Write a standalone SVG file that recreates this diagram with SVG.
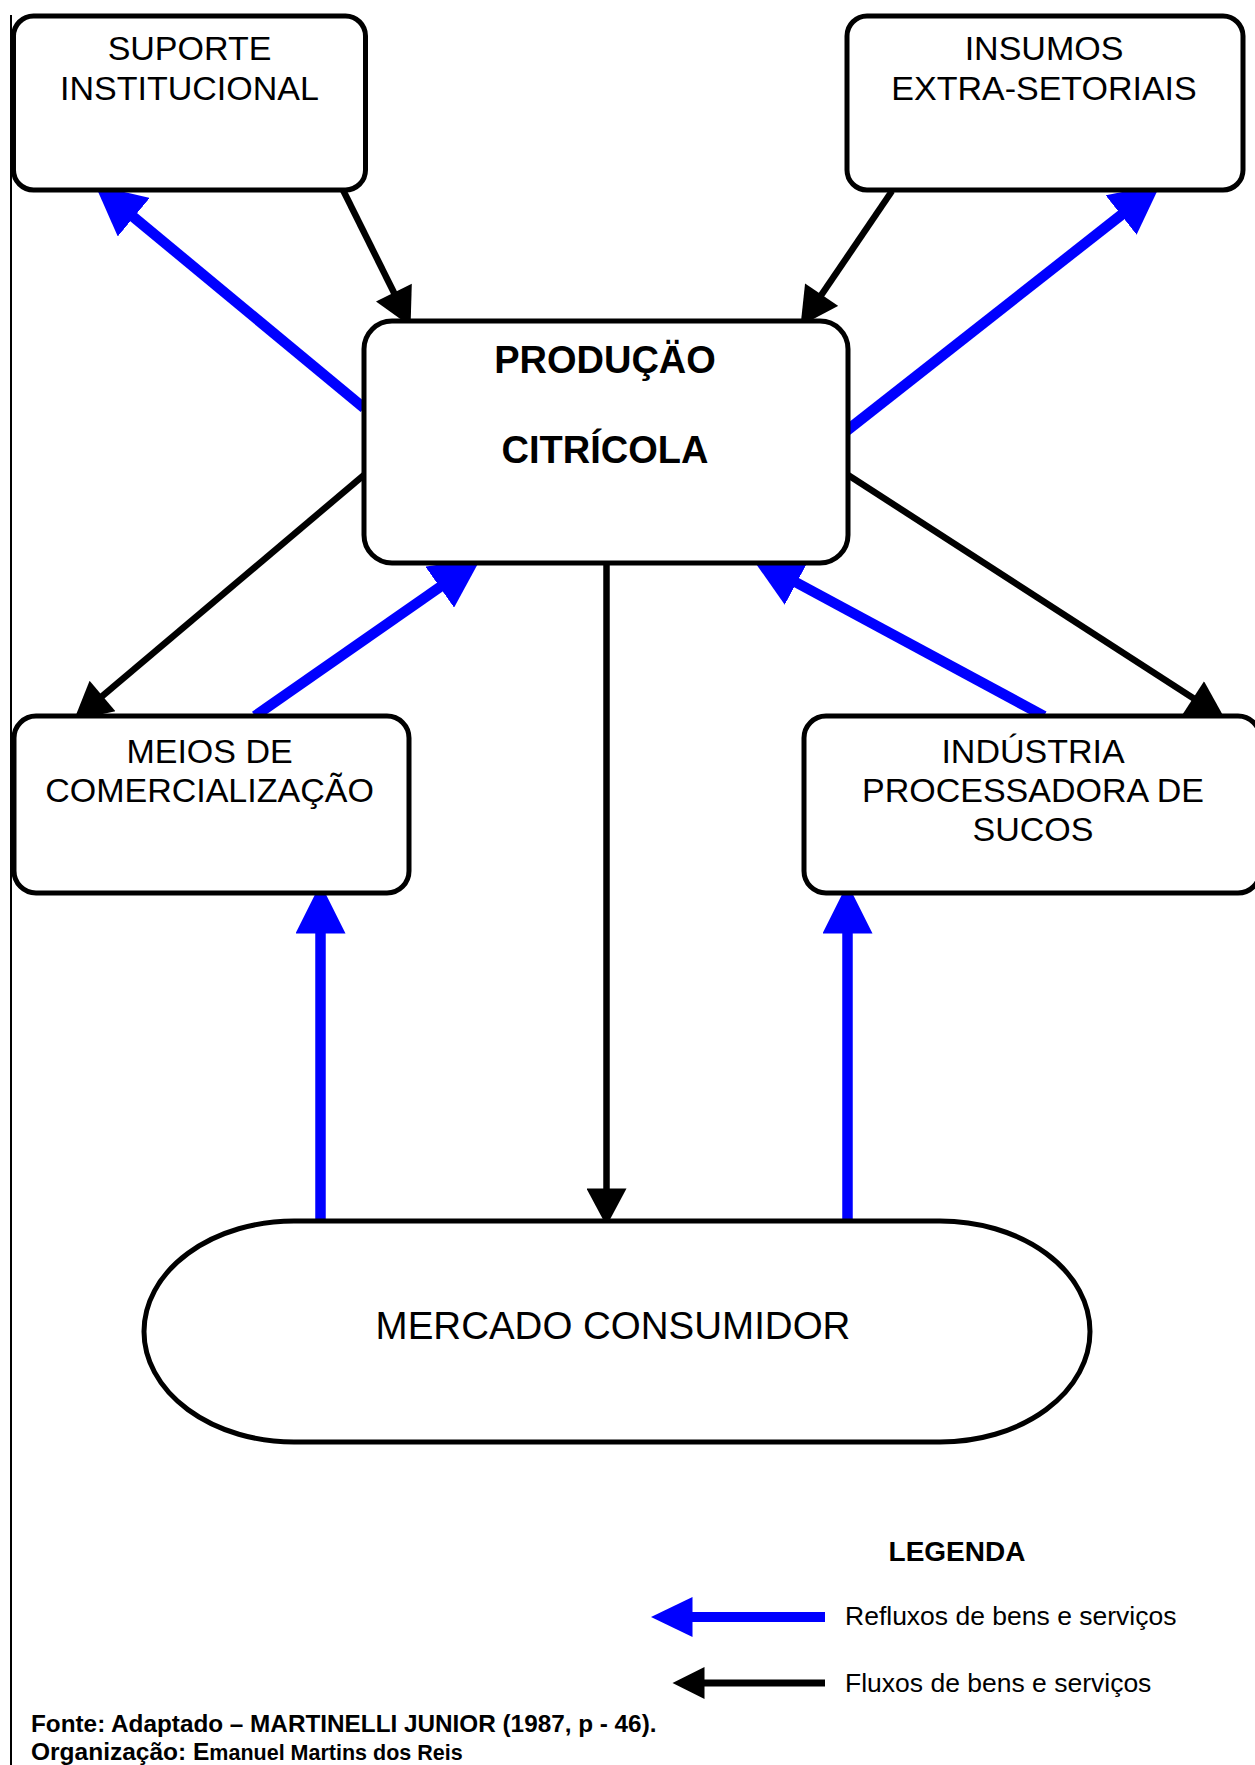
<svg xmlns="http://www.w3.org/2000/svg" width="1255" height="1765" viewBox="0 0 1255 1765">
<style>
.box{fill:#fff;stroke:#000;stroke-width:5}
.t{font-family:"Liberation Sans",Arial,sans-serif;font-size:34px;fill:#000;text-anchor:middle}
.tb{font-family:"Liberation Sans",Arial,sans-serif;font-weight:bold;fill:#000}
.blk{stroke:#000;stroke-width:6.5;fill:none}
.blu{stroke:#0000FF;stroke-width:10.5;fill:none}
</style>
<defs>
<marker id="hb" markerUnits="userSpaceOnUse" orient="auto" markerWidth="40" markerHeight="40" viewBox="0 -16 30 32" refX="2" refY="0">
<path d="M0,-16 L30,0 L0,16 z" fill="#000"/>
</marker>
<marker id="hu" markerUnits="userSpaceOnUse" orient="auto" markerWidth="50" markerHeight="50" viewBox="0 -20 40 40" refX="2" refY="0">
<path d="M0,-20 L40,0 L0,20 z" fill="#0000FF"/>
</marker>
</defs>
<rect width="1255" height="1765" fill="#fff"/>
<line x1="11" y1="15" x2="11" y2="1765" stroke="#000" stroke-width="2"/>

<g id="connectors">
<line class="blk" x1="343" y1="190" x2="395" y2="294.8" marker-end="url(#hb)"/>
<line class="blk" x1="892" y1="191" x2="820.2" y2="296.7" marker-end="url(#hb)"/>
<line class="blk" x1="364" y1="475" x2="100.6" y2="697.6" marker-end="url(#hb)"/>
<line class="blk" x1="848" y1="475" x2="1195.3" y2="699.4" marker-end="url(#hb)"/>
<line class="blk" x1="606.5" y1="563" x2="606.5" y2="1191" marker-end="url(#hb)"/>
<line class="blu" x1="364" y1="408" x2="131.8" y2="215.6" marker-end="url(#hu)"/>
<line class="blu" x1="847" y1="430.5" x2="1123.1" y2="213.5" marker-end="url(#hu)"/>
<line class="blu" x1="255" y1="716" x2="441.8" y2="585.7" marker-end="url(#hu)"/>
<line class="blu" x1="1044" y1="716" x2="794.4" y2="581.5" marker-end="url(#hu)"/>
<line class="blu" x1="320.5" y1="1221" x2="320.5" y2="931" marker-end="url(#hu)"/>
<line class="blu" x1="847.5" y1="1221" x2="847.5" y2="931" marker-end="url(#hu)"/>
</g>

<g id="suporte">
<rect class="box" x="13.5" y="16" width="352" height="174" rx="20"/>
<text class="t" x="189.5" y="60">SUPORTE</text>
<text class="t" x="189.5" y="100">INSTITUCIONAL</text>
</g>
<g id="insumos">
<rect class="box" x="847" y="16" width="396" height="174" rx="20"/>
<text class="t" x="1044" y="60">INSUMOS</text>
<text class="t" x="1044" y="100">EXTRA-SETORIAIS</text>
</g>
<g id="producao">
<rect class="box" x="364" y="321" width="484" height="242" rx="28"/>
<text class="tb" x="605" y="373" font-size="38" text-anchor="middle">PRODUÇÄO</text>
<text class="tb" x="605" y="463" font-size="38" text-anchor="middle">CITRÍCOLA</text>
</g>
<g id="meios">
<rect class="box" x="14" y="716" width="395" height="177" rx="22"/>
<text class="t" x="209.5" y="763">MEIOS DE</text>
<text class="t" x="209.5" y="802">COMERCIALIZAÇÃO</text>
</g>
<g id="industria">
<rect class="box" x="804" y="716" width="456" height="177" rx="22"/>
<text class="t" x="1033" y="763">INDÚSTRIA</text>
<text class="t" x="1033" y="802">PROCESSADORA DE</text>
<text class="t" x="1033" y="841">SUCOS</text>
</g>
<g id="mercado">
<rect class="box" x="144" y="1221" width="946" height="221" rx="150" ry="110.5"/>
<text class="t" x="613" y="1339" style="font-size:38.5px">MERCADO CONSUMIDOR</text>
</g>

<g id="legenda">
<text class="tb" x="957" y="1561" font-size="28" text-anchor="middle">LEGENDA</text>
<line x1="690" y1="1617" x2="825" y2="1617" stroke="#0000FF" stroke-width="10"/>
<path d="M651,1617 L692.5,1597 L692.5,1637 z" fill="#0000FF"/>
<text x="845" y="1625" font-family="Liberation Sans, Arial, sans-serif" font-size="26.5">Refluxos de bens e serviços</text>
<line x1="702" y1="1683" x2="825" y2="1683" stroke="#000" stroke-width="7"/>
<path d="M672.5,1683 L704.5,1667 L704.5,1699 z" fill="#000"/>
<text x="845" y="1692" font-family="Liberation Sans, Arial, sans-serif" font-size="26.5">Fluxos de bens e serviços</text>
</g>
<g id="fonte">
<text class="tb" x="31" y="1732" font-size="24.3">Fonte: Adaptado – MARTINELLI JUNIOR (1987, p - 46).</text>
<text class="tb" x="31" y="1760" font-size="24.5">Organização: E<tspan font-size="21.5">manuel Martins dos Reis</tspan></text>
</g>
</svg>
